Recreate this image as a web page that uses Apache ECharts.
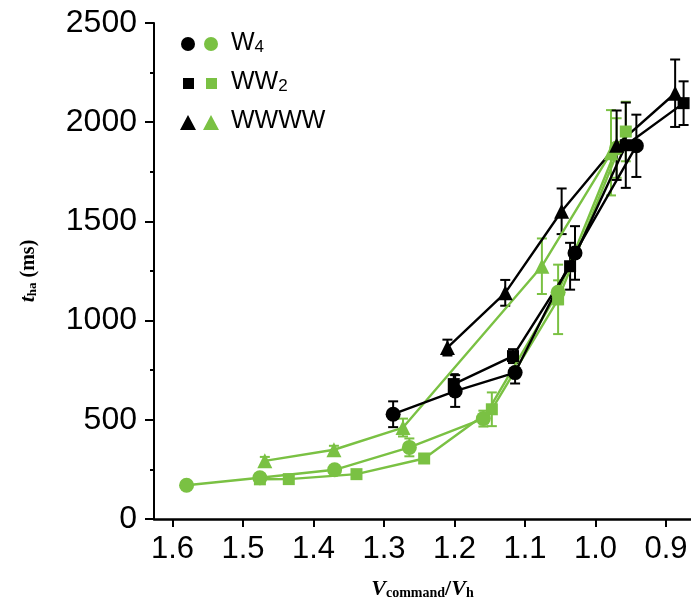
<!DOCTYPE html>
<html>
<head>
<meta charset="utf-8">
<script src="https://cdn.jsdelivr.net/npm/echarts@6/dist/echarts.min.js"></script>
<style>html,body{margin:0;padding:0;background:#fff;}#c{width:691px;height:605px;}</style>
</head>
<body>
<div id="c"></div>
<script>
// ---- data ----
const xTicks = [1.6, 1.5, 1.4, 1.3, 1.2, 1.1, 1.0, 0.9];
const yTicks = [0, 500, 1000, 1500, 2000, 2500];

const w4BlackX = [1.287, 1.199, 1.114, 1.029, 0.942];
const w4BlackY = [528, 645, 738, 1341, 1881];
const w4BlackErr = [65, 80, 55, 135, 157];

const w4GreenX = [1.58, 1.476, 1.370, 1.264, 1.159, 1.053, 0.970];
const w4GreenY = [170, 208, 248, 361, 506, 1143, 1870];
const w4GreenErr = [0, 20, 15, 45, 40, 60, 150];

const ww2BlackX = [1.201, 1.117, 1.036, 0.957, 0.875];
const ww2BlackY = [680, 821, 1274, 1884, 2096];
const ww2BlackErr = [50, 35, 118, 215, 110];

const ww2GreenX = [1.476, 1.435, 1.339, 1.243, 1.147, 1.053, 0.957];
const ww2GreenY = [200, 201, 226, 305, 553, 1107, 1953];
const ww2GreenErr = [15, 0, 0, 10, 85, 175, 150];

const wwwwBlackX = [1.210, 1.128, 1.048, 0.970, 0.887];
const wwwwBlackY = [864, 1140, 1551, 1884, 2146];
const wwwwBlackErr = [40, 65, 115, 175, 170];

const wwwwGreenX = [1.469, 1.371, 1.273, 1.076, 0.978];
const wwwwGreenY = [293, 349, 461, 1274, 1846];
const wwwwGreenErr = [20, 20, 45, 140, 215];

const BLACK = '#000000';
const GREEN = '#7ac143';

function pts(xs, ys) { return xs.map((x, i) => [x, ys[i]]); }
function errPts(xs, ys, es) { return xs.map((x, i) => [x, ys[i], es[i]]); }

function lineSeries(name, xs, ys, color, symbol, size) {
  return {
    name: name, type: 'line', data: pts(xs, ys),
    symbol: symbol, symbolSize: size, z: 5,
    lineStyle: { color: color, width: 2.4 },
    itemStyle: { color: color },
    emphasis: { disabled: true }, animation: false
  };
}
function errSeries(name, xs, ys, es, color) {
  return {
    name: name, type: 'custom', z: 4, animation: false,
    data: errPts(xs, ys, es),
    renderItem: function (params, api) {
      const x = api.value(0), y = api.value(1), e = api.value(2);
      if (!e) return null;
      const top = api.coord([x, y + e]);
      const bot = api.coord([x, y - e]);
      const hw = 5;
      const st = { stroke: color, lineWidth: 2 };
      return {
        type: 'group',
        children: [
          { type: 'line', shape: { x1: top[0], y1: top[1], x2: bot[0], y2: bot[1] }, style: st },
          { type: 'line', shape: { x1: top[0] - hw, y1: top[1], x2: top[0] + hw, y2: top[1] }, style: st },
          { type: 'line', shape: { x1: bot[0] - hw, y1: bot[1], x2: bot[0] + hw, y2: bot[1] }, style: st }
        ]
      };
    }
  };
}

const chart = echarts.init(document.getElementById('c'), null, { renderer: 'canvas' });

const tri = 'path://M0,10 L5,0 L10,10 Z';
const legendFont = 'Liberation Sans, Arial, sans-serif';

const option = {
  backgroundColor: '#fff',
  animation: false,
  grid: { left: 154, right: 0, top: 23, bottom: 85, containLabel: false },
  xAxis: {
    type: 'value', min: 0.8645, max: 1.6262, inverse: true,
    axisLine: { show: true, onZero: false, lineStyle: { color: '#000', width: 2.5 } },
    axisTick: { show: true, customValues: xTicks, length: 8, lineStyle: { color: '#000', width: 2 } },
    axisLabel: {
      customValues: xTicks, margin: 15,
      formatter: function (v) { return v.toFixed(1); },
      fontFamily: 'Liberation Sans, Arial, sans-serif', fontSize: 31, color: '#000'
    },
    splitLine: { show: false },
    name: '{v|V}{s|command}{v2|/}{v|V}{s|h}',
    nameLocation: 'middle', nameGap: 57,
    nameTextStyle: {
      rich: {
        v: { fontFamily: 'Liberation Serif, Times New Roman, serif', fontStyle: 'italic', fontWeight: 'bold', fontSize: 22, color: '#000', verticalAlign: 'bottom', lineHeight: 24 },
        v2: { fontFamily: 'Liberation Serif, Times New Roman, serif', fontWeight: 'bold', fontSize: 22, color: '#000', verticalAlign: 'bottom', lineHeight: 24 },
        s: { fontFamily: 'Liberation Serif, Times New Roman, serif', fontWeight: 'bold', fontSize: 14, color: '#000', verticalAlign: 'bottom', lineHeight: 18 }
      }
    }
  },
  yAxis: {
    type: 'value', min: 0, max: 2500, interval: 500,
    axisLine: { show: true, lineStyle: { color: '#000', width: 2 } },
    axisTick: { show: true, length: 9, lineStyle: { color: '#000', width: 2 } },
    minorTick: { show: true, splitNumber: 2, length: 4, lineStyle: { color: '#000', width: 2 } },
    axisLabel: {
      margin: 17, fontFamily: 'Liberation Sans, Arial, sans-serif', fontSize: 32, color: '#000',
      formatter: function (v) { return yTicks.indexOf(v) >= 0 ? String(v) : ''; }
    },
    splitLine: { show: false },
    name: '{t|t}{s|ha}{m| (ms)}',
    nameLocation: 'middle', nameGap: 115, nameRotate: 90,
    nameTextStyle: {
      rich: {
        t: { fontFamily: 'Liberation Serif, Times New Roman, serif', fontStyle: 'italic', fontWeight: 'bold', fontSize: 22, color: '#000', verticalAlign: 'bottom', lineHeight: 24 },
        s: { fontFamily: 'Liberation Serif, Times New Roman, serif', fontWeight: 'bold', fontSize: 13, color: '#000', verticalAlign: 'bottom', lineHeight: 18 },
        m: { fontFamily: 'Liberation Serif, Times New Roman, serif', fontWeight: 'bold', fontSize: 20, color: '#000', verticalAlign: 'bottom', lineHeight: 24 }
      }
    }
  },
  series: [
    errSeries('W4 green err', w4GreenX, w4GreenY, w4GreenErr, GREEN),
    errSeries('WW2 green err', ww2GreenX, ww2GreenY, ww2GreenErr, GREEN),
    errSeries('WWWW green err', wwwwGreenX, wwwwGreenY, wwwwGreenErr, GREEN),
    lineSeries('W4 green', w4GreenX, w4GreenY, GREEN, 'circle', 15),
    lineSeries('WW2 green', ww2GreenX, ww2GreenY, GREEN, 'rect', 12),
    lineSeries('WWWW green', wwwwGreenX, wwwwGreenY, GREEN, tri, 15),
    errSeries('W4 black err', w4BlackX, w4BlackY, w4BlackErr, BLACK),
    errSeries('WW2 black err', ww2BlackX, ww2BlackY, ww2BlackErr, BLACK),
    errSeries('WWWW black err', wwwwBlackX, wwwwBlackY, wwwwBlackErr, BLACK),
    lineSeries('W4 black', w4BlackX, w4BlackY, BLACK, 'circle', 15),
    lineSeries('WW2 black', ww2BlackX, ww2BlackY, BLACK, 'rect', 12),
    lineSeries('WWWW black', wwwwBlackX, wwwwBlackY, BLACK, tri, 15)
  ],
  graphic: [
    { type: 'circle', shape: { cx: 188, cy: 44, r: 7 }, style: { fill: BLACK } },
    { type: 'circle', shape: { cx: 211, cy: 44, r: 7 }, style: { fill: GREEN } },
    { type: 'rect', shape: { x: 183, y: 78, width: 11, height: 11 }, style: { fill: BLACK } },
    { type: 'rect', shape: { x: 206, y: 78, width: 11, height: 11 }, style: { fill: GREEN } },
    { type: 'polygon', shape: { points: [[180, 130], [188, 115], [196, 130]] }, style: { fill: BLACK } },
    { type: 'polygon', shape: { points: [[203, 130], [211, 115], [219, 130]] }, style: { fill: GREEN } },
    { type: 'text', left: 231, top: 31, style: { text: '{a|W}{b|4}', rich: { a: { fontFamily: legendFont, fontSize: 25, fill: '#000', verticalAlign: 'bottom', lineHeight: 26 }, b: { fontFamily: legendFont, fontSize: 17, fill: '#000', verticalAlign: 'bottom', lineHeight: 22 } } } },
    { type: 'text', left: 231, top: 70, style: { text: '{a|WW}{b|2}', rich: { a: { fontFamily: legendFont, fontSize: 25, fill: '#000', verticalAlign: 'bottom', lineHeight: 26 }, b: { fontFamily: legendFont, fontSize: 17, fill: '#000', verticalAlign: 'bottom', lineHeight: 22 } } } },
    { type: 'text', left: 231, top: 109, style: { text: 'WWWW', font: '25px ' + legendFont, fill: '#000' } }
  ]
};
chart.setOption(option);
</script>
</body>
</html>
